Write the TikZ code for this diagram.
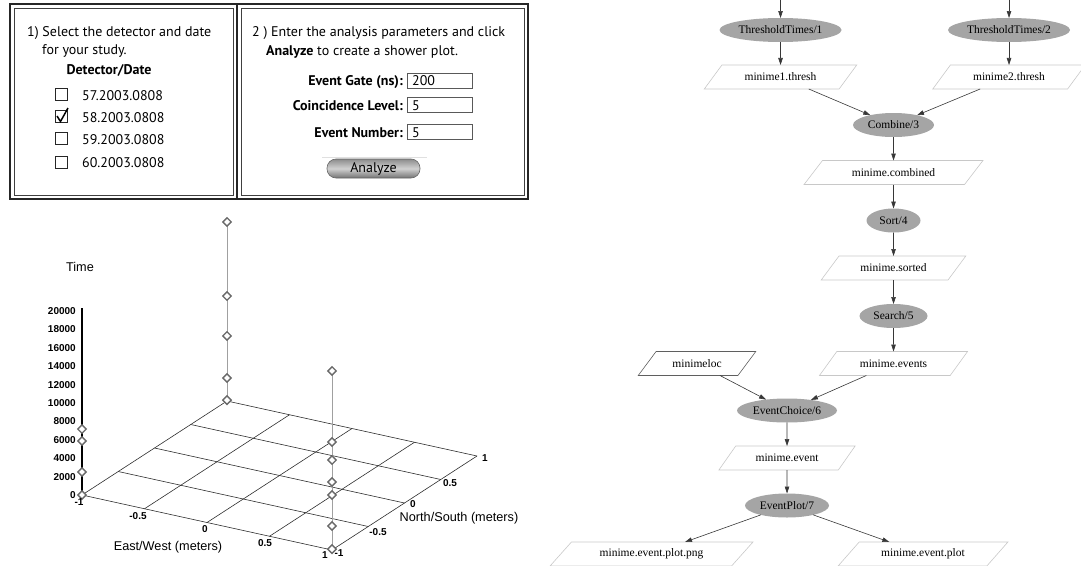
\documentclass[tikz,border=0pt]{standalone}
\usepackage{fontspec}
\setmainfont{Liberation Serif}
\newfontfamily\uifont{PT Sans}
\newfontfamily\plotfont{Liberation Sans}
\newfontfamily\gvfont{Liberation Serif}
\usetikzlibrary{shapes.geometric,arrows.meta}
\definecolor{gvfill}{RGB}{165,165,165}
\definecolor{filegray}{RGB}{200,200,200}
\definecolor{locgray}{RGB}{95,95,95}
\definecolor{arrcol}{RGB}{55,55,55}
\definecolor{gridcol}{RGB}{45,45,45}
\definecolor{stemcol}{RGB}{160,160,160}
\definecolor{diacol}{RGB}{105,105,105}
\begin{document}
\begin{tikzpicture}[x=1pt,y=-1pt,
  ui/.style={font=\uifont\fontsize{14}{16}\selectfont, inner sep=0pt},
  uib/.style={font=\uifont\bfseries\fontsize{14}{16}\selectfont, inner sep=0pt},
  cbox/.style={draw=black!85, line width=0.8pt, minimum width=12pt, minimum height=12pt, inner sep=0pt},
  inbox/.style={draw=black!65, line width=0.7pt, minimum width=65pt, minimum height=15pt, inner sep=0pt},
  btn/.style={rounded corners=9pt, draw=black!60, line width=0.6pt, top color=black!45, bottom color=black!55, middle color=black!18, minimum width=93pt, minimum height=19pt, inner sep=0pt, font=\uifont\fontsize{14}{16}\selectfont},
  proc/.style={ellipse, fill=gvfill, draw=none, minimum height=24pt, inner sep=0pt, outer sep=0pt, font=\gvfont\fontsize{11.5}{13}\selectfont},
  file/.style={trapezium, trapezium left angle=37, trapezium right angle=143, trapezium stretches=true, draw=filegray, line width=0.6pt, minimum height=24pt, inner sep=0pt, outer sep=0pt, font=\gvfont\fontsize{11.5}{13}\selectfont},
  arr/.style={draw=arrcol, line width=0.6pt, -{Triangle[length=7pt,width=4.5pt]}},
  gridline/.style={draw=gridcol, line width=0.6pt},
  stem/.style={draw=stemcol, line width=0.8pt},
  pt/.style={diamond, draw=diacol, fill=white, line width=1.4pt, minimum width=9pt, minimum height=9pt, inner sep=0pt},
  axlab/.style={font=\plotfont\fontsize{12.7}{14}\selectfont, inner sep=0pt},
  tick/.style={font=\plotfont\bfseries\fontsize{10}{11}\selectfont, inner sep=0pt}
]
\useasboundingbox (0,0) rectangle (1081,565);

% ---------------- top-left form panels ----------------
\draw[line width=1.8pt, black!85] (10,4) rectangle (528,199);
\draw[line width=1.8pt, black!85] (237,4) -- (237,199);
\draw[line width=0.7pt, black!75] (14,8) rectangle (233,195);
\draw[line width=0.7pt, black!75] (241,8) rectangle (524,195);

\node[ui, anchor=base west] (s1a) at (27,36.5) {1) Select the detector and date};
\node[ui, anchor=base west] (s1b) at (42,54.5) {for your study.};
\node[uib, anchor=base] (dd) at (109,74) {Detector/Date};

\node[cbox] (c1) at (61,94) {};
\node[cbox] (c2) at (61,116.5) {};
\node[cbox] (c3) at (61,138) {};
\node[cbox] (c4) at (61,162) {};
\draw[line width=1.5pt, black] (57,116) -- (60.5,121.5) -- (68,108);
\node[ui, anchor=base west] (l1) at (82,100) {57.2003.0808};
\node[ui, anchor=base west] (l2) at (82,122) {58.2003.0808};
\node[ui, anchor=base west] (l3) at (82,144) {59.2003.0808};
\node[ui, anchor=base west] (l4) at (82,167.5) {60.2003.0808};

\node[ui, anchor=base west] (s2a) at (252,36.5) {2 ) Enter the analysis parameters and click};
\node[ui, anchor=base west] (s2b) at (266,55.5) {{\bfseries Analyze} to create a shower plot.};
\node[uib, anchor=base east] (pg) at (403,85) {Event Gate (ns):};
\node[uib, anchor=base east] (pc) at (403,110) {Coincidence Level:};
\node[uib, anchor=base east] (pn) at (403,137) {Event Number:};
\node[inbox] (bg) at (439.5,80.5) {};
\node[inbox] (bc) at (439.5,105) {};
\node[inbox] (bn) at (439.5,131.5) {};
\node[ui, anchor=base west] (vg) at (412,85.5) {200};
\node[ui, anchor=base west] (vc) at (412,110) {5};
\node[ui, anchor=base west] (vn) at (412,137) {5};
\draw[black!12, line width=0.8pt] (322,157) -- (427,157);
\node[btn] (an) at (373.5,168.5) {Analyze};

% ---------------- 3D plot ----------------
\begin{scope}[shift={(279.5pt,-475.5pt)}, x={(125pt,-27.5pt)}, y={(72.5pt,47pt)}, z={(0pt,9.2pt)}]
  \foreach \u in {-1,-0.5,0,0.5,1} {
    \draw[gridline] (\u,-1,0) -- (\u,1,0);
    \draw[gridline] (-1,\u,0) -- (1,\u,0);
  }
  \draw[stem] (-1,1,0) -- (-1,1,19.46);
  \draw[stem] (1,-1,0) -- (1,-1,19.46);
  \draw[line width=2pt, black] (-1,-1,0) -- (-1,-1,20.3);

  \foreach \t/\lab in {0/0,2/2000,4/4000,6/6000,8/8000,10/10000,12/12000,14/14000,16/16000,18/18000,20/20000}
    \node[tick, anchor=east, xshift=-6pt] (tk\t) at (-1,-1,\t) {\lab};

  \foreach \t [count=\i] in {19.46,11.41,7.07,2.5,0.1}
    \node[pt] (pd\i) at (-1,1,\t) {};
  \foreach \t [count=\i] in {7.17,5.87,2.5,0}
    \node[pt] (pa\i) at (-1,-1,\t) {};
  \foreach \t [count=\i] in {19.46,11.74,9.78,7.39,5.98,2.61,0.1}
    \node[pt] (pb\i) at (1,-1,\t) {};
\end{scope}

\node[tick] (ew1) at (79,502) {-1};
\node[tick] (ew2) at (138,516) {-0.5};
\node[tick] (ew3) at (205,529) {0};
\node[tick] (ew4) at (265,543) {0.5};
\node[tick] (ew5) at (325,555) {1};
\node[tick] (ns1) at (339,553) {-1};
\node[tick] (ns2) at (378,532) {-0.5};
\node[tick] (ns3) at (413,504) {0};
\node[tick] (ns4) at (450,483) {0.5};
\node[tick] (ns5) at (485,458) {1};
\node[axlab] (tl) at (80,267) {Time};
\node[axlab] (ewl) at (168,547) {East/West (meters)};
\node[axlab] (nsl) at (459,518) {North/South (meters)};

% ---------------- workflow graph ----------------
\node[proc, minimum width=122pt] (tt1) at (780.5,30) {ThresholdTimes/1};
\node[proc, minimum width=122pt] (tt2) at (1009,30) {ThresholdTimes/2};
\node[file, minimum width=154pt] (m1) at (780.5,77) {minime1.thresh};
\node[file, minimum width=154pt] (m2) at (1009,77) {minime2.thresh};
\node[proc, minimum width=81pt] (comb) at (893.5,125) {Combine/3};
\node[file, minimum width=179pt] (mc) at (893.5,172.5) {minime.combined};
\node[proc, minimum width=54pt] (sort) at (893.5,220.5) {Sort/4};
\node[file, minimum width=146pt] (ms) at (893.5,268) {minime.sorted};
\node[proc, minimum width=68pt] (search) at (893.5,316) {Search/5};
\node[file, minimum width=149pt] (me) at (893.5,363.5) {minime.events};
\node[file, draw=locgray, minimum width=118pt] (loc) at (697,363.5) {minimeloc};
\node[proc, minimum width=100pt] (ec) at (787,410.5) {EventChoice/6};
\node[file, minimum width=137pt] (ev) at (787,458) {minime.event};
\node[proc, minimum width=84pt] (ep) at (787,505.5) {EventPlot/7};
\node[file, minimum width=203pt] (png) at (651.5,554) {minime.event.plot.png};
\node[file, minimum width=170pt] (plot) at (923,554) {minime.event.plot};

\coordinate (in1) at (780.5,0);
\coordinate (in2) at (1009,0);
\draw[arr] (in1) -- (tt1);
\draw[arr] (in2) -- (tt2);
\draw[arr] (tt1) -- (m1);
\draw[arr] (tt2) -- (m2);
\draw[arr] (m1) -- (comb);
\draw[arr] (m2) -- (comb);
\draw[arr] (comb) -- (mc);
\draw[arr] (mc) -- (sort);
\draw[arr] (sort) -- (ms);
\draw[arr] (ms) -- (search);
\draw[arr] (search) -- (me);
\draw[arr] (loc) -- (ec);
\draw[arr] (me) -- (ec);
\draw[arr] (ec) -- (ev);
\draw[arr] (ev) -- (ep);
\draw[arr] (ep) -- (png);
\draw[arr] (ep) -- (plot);
\end{tikzpicture}
\end{document}
